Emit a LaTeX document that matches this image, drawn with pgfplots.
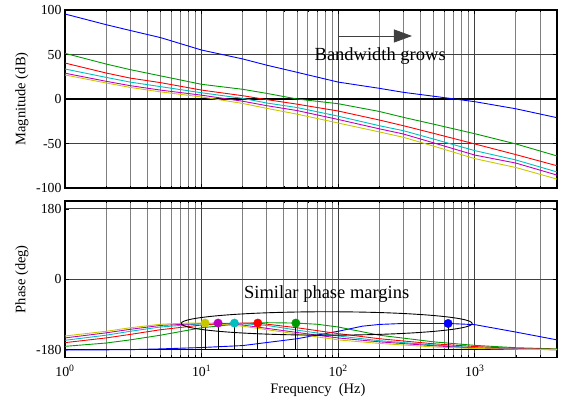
\documentclass[border=0pt]{standalone}
\usepackage{fontspec}
\setmainfont{Liberation Serif}
\usepackage{pgfplots}
\pgfplotsset{compat=1.18}
\usetikzlibrary{arrows.meta}
\definecolor{cB}{RGB}{0,0,255}
\definecolor{cG}{RGB}{0,155,0}
\definecolor{cR}{RGB}{255,0,0}
\definecolor{cC}{RGB}{0,191,191}
\definecolor{cM}{RGB}{191,0,191}
\definecolor{cY}{RGB}{200,200,0}
\pgfplotsset{every axis/.append style={
  xmode=log, xmin=1, xmax=4000, scale only axis, width=492bp, anchor=south west,
  axis line style={line width=1.3pt},
  tick align=inside, xtick pos=both, ytick pos=both,
  major tick length=4bp, minor tick length=2bp,
  tick style={black, line width=0.6pt},
  xtick={1,10,100,1000},
  minor xtick={2,3,4,5,6,7,8,9,20,30,40,50,60,70,80,90,200,300,400,500,600,700,800,900,2000,3000,4000},
  xmajorgrids, xminorgrids, ymajorgrids,
  major grid style={black!75, line width=0.7pt},
  minor grid style={black!50, line width=0.8pt},
  tick label style={font=\fontsize{13.8bp}{15bp}\selectfont},
  xticklabel style={yshift=-4bp},
  ylabel style={at={(axis description cs:-0.0874,0.5)}, anchor=center, font=\fontsize{14.5bp}{16bp}\selectfont},
}}
\begin{document}
\begin{tikzpicture}
\path[use as bounding box] (0,0) rectangle (564bp,402bp);
% ---------------- Magnitude ----------------
\begin{axis}[at={(65bp,214bp)}, height=178bp,
  ymin=-100, ymax=100, ytick={-100,-50,0,50,100}, yticklabels={-100,-50,0,50,100},
  xticklabels={}, ylabel={Magnitude (dB)}]
\addplot[black, line width=1.5pt] coordinates {(1,0) (4000,0)};
\addplot[cB, line width=0.9pt] coordinates {(1,95.5) (2,83.5) (3,77) (5,69) (10,55) (20,45) (30,38) (50,30) (100,19) (200,12) (300,7.5) (500,3.1) (1000,-3) (2000,-11) (4000,-21)};
\addplot[cG, line width=0.9pt] coordinates {(1,51.3) (2,39.3) (3,33) (5,26) (10,16.5) (20,10.9) (30,6.3) (50,0) (100,-5.3) (200,-14) (300,-20.6) (500,-28.3) (1000,-39) (2000,-50.5) (4000,-64)};
\addplot[cR, line width=0.9pt] coordinates {(1,40.4) (2,29.2) (3,23.5) (5,18.4) (10,10) (20,3.7) (30,-0.7) (50,-5.8) (100,-13.5) (200,-23.6) (300,-30) (500,-38.6) (1000,-50.5) (2000,-62.5) (4000,-75)};
\addplot[cC, line width=0.9pt] coordinates {(1,33.7) (2,24.3) (3,19) (5,13.9) (10,7) (20,0.7) (30,-4.5) (50,-9.6) (100,-19.3) (200,-30) (300,-35.6) (500,-45) (1000,-58) (2000,-68.5) (4000,-82)};
\addplot[cM, line width=0.9pt] coordinates {(1,29) (2,19.9) (3,15) (5,10) (10,4.3) (20,-2.5) (30,-7.5) (50,-13) (100,-23) (200,-33.5) (300,-39.3) (500,-49.3) (1000,-63) (2000,-72) (4000,-85.5)};
\addplot[cY, line width=0.9pt] coordinates {(1,27) (2,18) (3,13) (5,8) (10,2.3) (20,-5) (30,-10.5) (50,-17) (100,-27) (200,-37) (300,-43) (500,-53) (1000,-67) (2000,-77) (4000,-90)};
\draw[-{Triangle[length=18bp,width=13bp]}, black!75, line width=0.8pt] (axis cs:101.7,70.8) -- (axis cs:347,70.8);
\node[font=\fontsize{18.5bp}{20bp}\selectfont] at (axis cs:203,48.5) {Bandwidth grows};
\end{axis}
% ---------------- Phase ----------------
\begin{axis}[at={(65bp,44.5bp)}, height=156.5bp,
  ymin=-200, ymax=200, ytick={-180,0,180}, yticklabels={-180,0,180},
  xticklabels={10\textsuperscript{0},10\textsuperscript{1},10\textsuperscript{2},10\textsuperscript{3}},
  ylabel={Phase (deg)}, xlabel={Frequency~~(Hz)},
  xlabel style={at={(axis description cs:0.514,-0.211)}, anchor=center, font=\fontsize{14.5bp}{16bp}\selectfont}]
\addplot[black, line width=1.5pt] coordinates {(1,-180) (4000,-180)};
\addplot[cB, line width=0.9pt] coordinates {(1,-181) (3,-180) (5,-178) (10,-174.5) (20,-169.5) (50,-152) (100,-133) (150,-120) (200,-115.5) (300,-113) (638,-113) (1000,-116) (2000,-135) (4000,-155)};
\addplot[cG, line width=0.9pt] coordinates {(1,-171.5) (2,-163) (3,-155) (5,-143) (10,-124) (20,-113) (30,-111) (49,-112) (70,-115) (100,-122) (200,-143) (500,-160) (1000,-169) (2000,-175) (4000,-178)};
\addplot[cR, line width=0.9pt] coordinates {(1,-162) (2,-150) (3,-141) (5,-129) (10,-117) (20,-112) (25.8,-112) (50,-124) (100,-139) (200,-152) (500,-165) (1000,-172) (2000,-177) (4000,-179)};
\addplot[cC, line width=0.9pt] coordinates {(1,-156) (2,-143) (3,-133) (5,-122) (10,-114) (17.4,-112) (30,-118) (50,-130) (100,-145) (200,-157) (500,-168) (1000,-175) (2000,-178) (4000,-180)};
\addplot[cM, line width=0.9pt] coordinates {(1,-150) (2,-137) (3,-128) (5,-118) (10,-113) (13.2,-112) (20,-117) (50,-136) (100,-150) (200,-160) (500,-170) (1000,-176) (2000,-178.5) (4000,-180)};
\addplot[cY, line width=0.9pt] coordinates {(1,-145) (2,-133) (3,-124) (5,-115) (8,-112) (10.6,-112) (20,-120) (50,-140) (100,-155) (200,-164) (500,-173) (1000,-177) (2000,-179) (4000,-180)};
% stems
\addplot[black, line width=0.8pt] coordinates {(10.6,-180) (10.6,-112)};
\addplot[black, line width=0.8pt] coordinates {(13.2,-180) (13.2,-112)};
\addplot[black, line width=0.8pt] coordinates {(17.4,-180) (17.4,-112)};
\addplot[black, line width=0.8pt] coordinates {(25.8,-180) (25.8,-112)};
\addplot[black, line width=0.8pt] coordinates {(49,-180) (49,-112)};
\addplot[black, line width=0.8pt] coordinates {(638,-180) (638,-113)};
% dots
\addplot[only marks, mark=*, mark size=4.2bp, cY] coordinates {(10.6,-112)};
\addplot[only marks, mark=*, mark size=4.2bp, cM] coordinates {(13.2,-112)};
\addplot[only marks, mark=*, mark size=4.2bp, cC] coordinates {(17.4,-112)};
\addplot[only marks, mark=*, mark size=4.2bp, cR] coordinates {(25.8,-112)};
\addplot[only marks, mark=*, mark size=4.2bp, cG] coordinates {(49,-112)};
\addplot[only marks, mark=*, mark size=4.2bp, cB] coordinates {(638,-113)};
\draw[black, line width=0.9pt] (axis cs:82.4,-113) ellipse [x radius=145.5bp, y radius=11.7bp];
\node[font=\fontsize{18.5bp}{20bp}\selectfont] at (axis cs:82.4,-39) {Similar phase margins};
\end{axis}
\end{tikzpicture}
\end{document}
